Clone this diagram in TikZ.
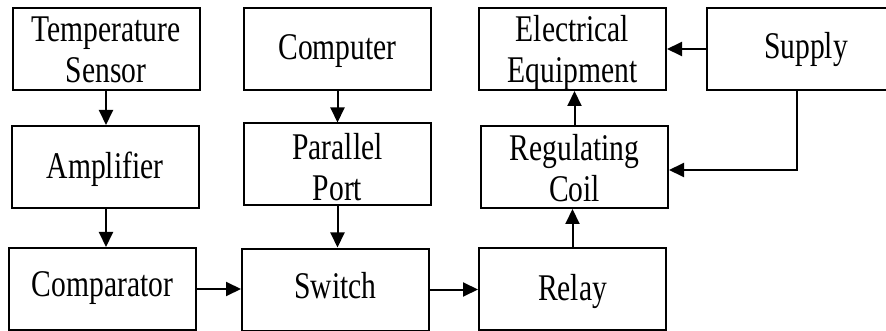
\documentclass[tikz,border=0pt]{standalone}
\usepackage{fontspec}
\setmainfont{Liberation Serif}
\usetikzlibrary{arrows.meta}
\newcommand{\boxlbl}[1]{\scalebox{1.02}[1.3]{\begin{tabular}{@{}c@{}}#1\end{tabular}}}
\begin{document}
\begin{tikzpicture}[x=1pt,y=-1pt,
  blk/.style={draw, line width=2pt, minimum width=187pt, minimum height=82pt, inner sep=0pt},
  lbl/.style={inner sep=0pt, font=\fontsize{29}{31.5}\selectfont},
  conn/.style={line width=2pt, -{Triangle[length=15pt,width=14pt]}}]
\fill[white] (0,0) rectangle (886,331);
\useasboundingbox (0,0) rectangle (886,331);
\clip (0,0) rectangle (886,331);
\node[blk] (ts) at (106,49) {};
\node[blk] (amp) at (105,167) {};
\node[blk] (cmp) at (102.5,289) {};
\node[blk] (pc) at (337.5,49) {};
\node[blk] (pp) at (337.5,164.5) {};
\node[blk] (sw) at (335.5,289.5) {};
\node[blk] (ee) at (572.5,49) {};
\node[blk] (rc) at (574.5,167) {};
\node[blk] (rl) at (572.5,289) {};
\node[blk, minimum width=193pt] (sup) at (803.5,49) {};
\node[lbl, yshift=-5pt] (tst) at (ts) {\boxlbl{Temperature\\Sensor}};
\node[lbl, yshift=-3pt] (ampt) at (amp) {\boxlbl{Amplifier}};
\node[lbl, yshift=1pt] (cmpt) at (cmp) {\boxlbl{Comparator}};
\node[lbl, yshift=-2pt] (pct) at (pc) {\boxlbl{Computer}};
\node[lbl, yshift=-7pt] (ppt) at (pp) {\boxlbl{Parallel\\Port}};
\node[lbl, yshift=-1pt] (swt) at (sw) {\boxlbl{Switch}};
\node[lbl, yshift=-5pt] (eet) at (ee) {\boxlbl{Electrical\\Equipment}};
\node[lbl, yshift=-6pt] (rct) at (rc) {\boxlbl{Regulating\\Coil}};
\node[lbl, yshift=-3pt] (rlt) at (rl) {\boxlbl{Relay}};
\node[lbl, yshift=-1pt] (supt) at (806,49) {\boxlbl{Supply}};
\coordinate (bend) at (797,170);
\draw[conn] (ts.south) -- (ts.south |- amp.north);
\draw[conn] (ts.south |- amp.south) -- (ts.south |- cmp.north);
\draw[conn] (pc.south) -- (pc.south |- pp.north);
\draw[conn] (pp.south) -- (pp.south |- sw.north);
\draw[conn] (cmp.east) -- (cmp.east -| sw.west);
\draw[conn] (sw.east) -- (sw.east -| rl.west);
\draw[conn] (rl.north) -- (rl.north |- rc.south);
\draw[conn] (rc.north) -- (rc.north |- ee.south);
\draw[conn] (sup.west) -- (sup.west -| ee.east);
\draw[conn] (sup.south -| bend) -- (bend) -- (bend -| rc.east);
\end{tikzpicture}
\end{document}
